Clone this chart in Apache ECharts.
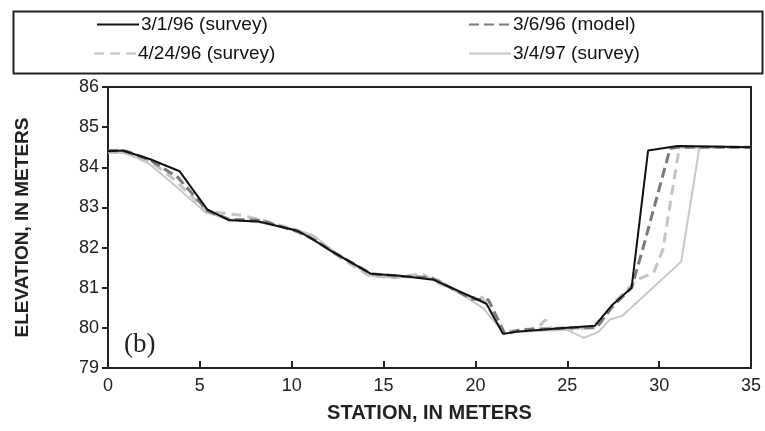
<!DOCTYPE html>
<html>
<head>
<meta charset="utf-8">
<script src="https://cdn.jsdelivr.net/npm/echarts@6/dist/echarts.min.js"></script>
<style>html,body{margin:0;padding:0;background:#fff;}#c{width:765px;height:431px;}</style>
</head>
<body>
<div id="c"></div>
<script>
var seriesNames = ['3/1/96 (survey)', '3/6/96 (model)', '4/24/96 (survey)', '3/4/97 (survey)'];
var xTicks = [0, 5, 10, 15, 20, 25, 30, 35];
var yTicks = [79, 80, 81, 82, 83, 84, 85, 86];

var s1x = [0, 0.8, 2.3, 3.9, 5.4, 6.6, 8.2, 10.3, 11.0, 12.2, 14.3, 15.9, 17.7, 19.9, 20.6, 21.5, 22.2, 25.0, 26.5, 27.4, 28.5, 29.4, 31.0, 35];
var s1y = [84.4, 84.42, 84.2, 83.9, 82.95, 82.68, 82.65, 82.42, 82.25, 81.9, 81.35, 81.3, 81.2, 80.75, 80.6, 79.85, 79.9, 80.0, 80.05, 80.55, 81.0, 84.42, 84.53, 84.5];

var s2x = [0, 1, 2.3, 3.8, 5.4, 6.6, 8.3, 10.3, 11.2, 12.3, 14.3, 16, 17.6, 19.8, 20.7, 21.6, 22.5, 25, 26.6, 27.4, 28.5, 29.1, 30.6, 31.0, 35];
var s2y = [84.42, 84.4, 84.18, 83.75, 82.92, 82.7, 82.68, 82.4, 82.2, 81.88, 81.35, 81.28, 81.25, 80.72, 80.7, 79.85, 79.95, 80.0, 80.0, 80.5, 81.0, 81.95, 84.47, 84.5, 84.5];

var s3x = [0, 1, 2.3, 3.6, 5.4, 6.4, 7.3, 8.4, 10.2, 11.3, 12.3, 14.2, 15.6, 17.1, 17.8, 19.8, 20.3, 21.5, 22.5, 23.4, 23.8, 24.2, 26.2, 27.1, 27.6, 28.8, 29.7, 30.2, 31.1, 35];
var s3y = [84.38, 84.35, 84.15, 83.7, 82.9, 82.85, 82.8, 82.68, 82.45, 82.25, 81.85, 81.3, 81.25, 81.35, 81.15, 80.75, 80.8, 79.9, 79.95, 80.0, 80.2, 79.95, 80.0, 80.3, 80.65, 81.2, 81.37, 81.95, 84.5, 84.5];

var s4x = [0, 1, 2.2, 3.5, 5.3, 6.4, 8.3, 10.2, 11.2, 12.3, 14.3, 15.5, 16.8, 18.0, 19.7, 20.4, 21.6, 22.3, 25.0, 25.9, 26.7, 27.3, 28.0, 31.2, 32.2, 35];
var s4y = [84.38, 84.35, 84.1, 83.6, 82.88, 82.72, 82.62, 82.45, 82.3, 81.9, 81.3, 81.25, 81.3, 81.2, 80.7, 80.5, 79.85, 79.9, 79.95, 79.75, 79.9, 80.2, 80.3, 81.65, 84.52, 84.5];

function zip(xs, ys) { return xs.map(function (x, i) { return [x, ys[i]]; }); }

var styles = [
  { color: '#111111', width: 2, type: 'solid', z: 5 },
  { color: '#7a7a7a', width: 3, type: [10, 5], z: 4 },
  { color: '#c4c4c4', width: 3, type: [10, 6], z: 3 },
  { color: '#c8c8c8', width: 2, type: 'solid', z: 2 }
];
var datas = [zip(s1x, s1y), zip(s2x, s2y), zip(s3x, s3y), zip(s4x, s4y)];

var series = seriesNames.map(function (n, i) {
  return {
    name: n, type: 'line', data: datas[i], symbol: 'none', z: styles[i].z,
    lineStyle: { color: styles[i].color, width: styles[i].width, type: styles[i].type },
    itemStyle: { color: styles[i].color }
  };
});

var legendPos = [
  { left: 96, top: 15 }, { left: 468, top: 15 },
  { left: 93, top: 44 }, { left: 468, top: 44 }
];
var legends = seriesNames.map(function (n, i) {
  return {
    data: [n], left: legendPos[i].left, top: legendPos[i].top,
    itemWidth: 42, itemHeight: 14, itemGap: 0, padding: 0,
    itemStyle: { opacity: 0 },
    textStyle: { fontFamily: 'Liberation Sans', fontSize: 19, color: '#111', padding: [0, 0, 0, -3] },
    selectedMode: false
  };
});

var chart = echarts.init(document.getElementById('c'), null, { renderer: 'canvas' });
chart.setOption({
  animation: false,
  backgroundColor: '#fff',
  legend: legends,
  grid: { left: 108, right: 14, top: 87, bottom: 63, show: true, borderColor: '#222', borderWidth: 2, backgroundColor: 'transparent' },
  xAxis: {
    type: 'value', min: xTicks[0], max: xTicks[xTicks.length - 1], interval: 5,
    name: 'STATION, IN METERS', nameLocation: 'middle', nameGap: 35,
    nameTextStyle: { fontFamily: 'Liberation Sans', fontWeight: 'bold', fontSize: 20, color: '#222' },
    axisLine: { lineStyle: { color: '#222', width: 2 } },
    axisTick: { inside: true, length: 7, lineStyle: { color: '#222', width: 2 } },
    axisLabel: { fontFamily: 'Liberation Sans', fontSize: 18, color: '#222', margin: 9 },
    splitLine: { show: false }
  },
  yAxis: {
    type: 'value', min: yTicks[0], max: yTicks[yTicks.length - 1], interval: 1,
    name: 'ELEVATION, IN METERS', nameLocation: 'middle', nameGap: 76,
    nameTextStyle: { fontFamily: 'Liberation Sans', fontWeight: 'bold', fontSize: 19, color: '#222' },
    axisLine: { show: true, lineStyle: { color: '#222', width: 2 } },
    axisTick: { show: true, inside: false, length: 6, lineStyle: { color: '#222', width: 2 } },
    axisLabel: { fontFamily: 'Liberation Sans', fontSize: 18, color: '#222', margin: 9 },
    splitLine: { show: false }
  },
  graphic: [
    { type: 'rect', left: 11, top: 9, shape: { width: 749, height: 62 }, style: { fill: 'none', stroke: '#222', lineWidth: 2 }, z: -1 },
    { type: 'text', left: 124, top: 331, style: { text: '(b)', font: '27px "Liberation Serif"', fill: '#222' } }
  ],
  series: series
});
</script>
</body>
</html>
